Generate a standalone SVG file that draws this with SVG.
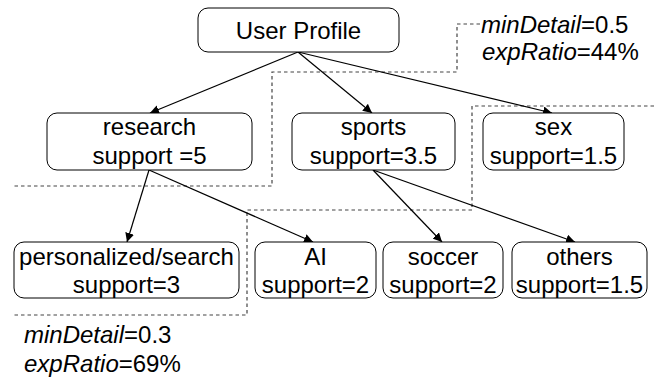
<svg xmlns="http://www.w3.org/2000/svg" width="654" height="386" viewBox="0 0 654 386">
<style>
.box{fill:#fff;stroke:#000;stroke-width:1}
text{font-family:"Liberation Sans",Arial,sans-serif;font-size:24px;fill:#000}
.c{text-anchor:middle}
.edge{stroke:#000;stroke-width:1.2;fill:none;marker-end:url(#ah)}
.dash{stroke:#444;stroke-width:1.2;fill:none;stroke-dasharray:3.5,3}
</style>
<defs>
<marker id="ah" viewBox="0 0 10 10" refX="10" refY="5" markerWidth="9" markerHeight="9" markerUnits="userSpaceOnUse" orient="auto">
<path d="M0,0 L10,5 L0,10 z" fill="#000"/>
</marker>
</defs>
<g id="boundaries">
<path class="dash" d="M480,24 H457 V72 H272 V186 H14"/>
<path class="dash" d="M654,106 H472 V210 H247 V315 H14"/>
</g>
<g id="connectors">
<line class="edge" x1="298" y1="52" x2="150" y2="113"/>
<line class="edge" x1="298" y1="52" x2="372" y2="113"/>
<line class="edge" x1="298" y1="52" x2="552" y2="113"/>
<line class="edge" x1="149" y1="170" x2="127" y2="242"/>
<line class="edge" x1="149" y1="170" x2="313" y2="242"/>
<line class="edge" x1="373" y1="170" x2="442" y2="242"/>
<line class="edge" x1="373" y1="170" x2="575" y2="242"/>
</g>
<g id="user-profile">
<rect class="box" x="198" y="8" width="201" height="44" rx="10"/>
<text class="c" x="298.5" y="39">User Profile</text>
</g>
<g id="research">
<rect class="box" x="47" y="113" width="205" height="57" rx="10"/>
<text class="c" x="149.5" y="135">research</text>
<text class="c" x="149.5" y="164">support =5</text>
</g>
<g id="sports">
<rect class="box" x="292" y="113" width="163" height="57" rx="10"/>
<text class="c" x="373.5" y="135">sports</text>
<text class="c" x="373.5" y="164">support=3.5</text>
</g>
<g id="sex">
<rect class="box" x="483" y="113" width="141" height="57" rx="10"/>
<text class="c" x="553.5" y="135">sex</text>
<text class="c" x="553.5" y="164">support=1.5</text>
</g>
<g id="personalized-search">
<rect class="box" x="14" y="242" width="225" height="56" rx="10"/>
<text class="c" x="126.5" y="265">personalized/search</text>
<text class="c" x="126.5" y="293">support=3</text>
</g>
<g id="ai">
<rect class="box" x="255" y="242" width="121" height="56" rx="10"/>
<text class="c" x="315.5" y="265">AI</text>
<text class="c" x="315.5" y="293">support=2</text>
</g>
<g id="soccer">
<rect class="box" x="383" y="242" width="120" height="56" rx="10"/>
<text class="c" x="443" y="265">soccer</text>
<text class="c" x="443" y="293">support=2</text>
</g>
<g id="others">
<rect class="box" x="512" y="242" width="135" height="56" rx="10"/>
<text class="c" x="579.5" y="265">others</text>
<text class="c" x="579.5" y="293">support=1.5</text>
</g>
<g id="label-top">
<text x="481" y="33"><tspan font-style="italic">minDetail</tspan>=0.5</text>
<text x="482" y="60"><tspan font-style="italic">expRatio</tspan>=44%</text>
</g>
<g id="label-bottom">
<text x="24" y="343"><tspan font-style="italic">minDetail</tspan>=0.3</text>
<text x="24" y="372"><tspan font-style="italic">expRatio</tspan>=69%</text>
</g>
</svg>
